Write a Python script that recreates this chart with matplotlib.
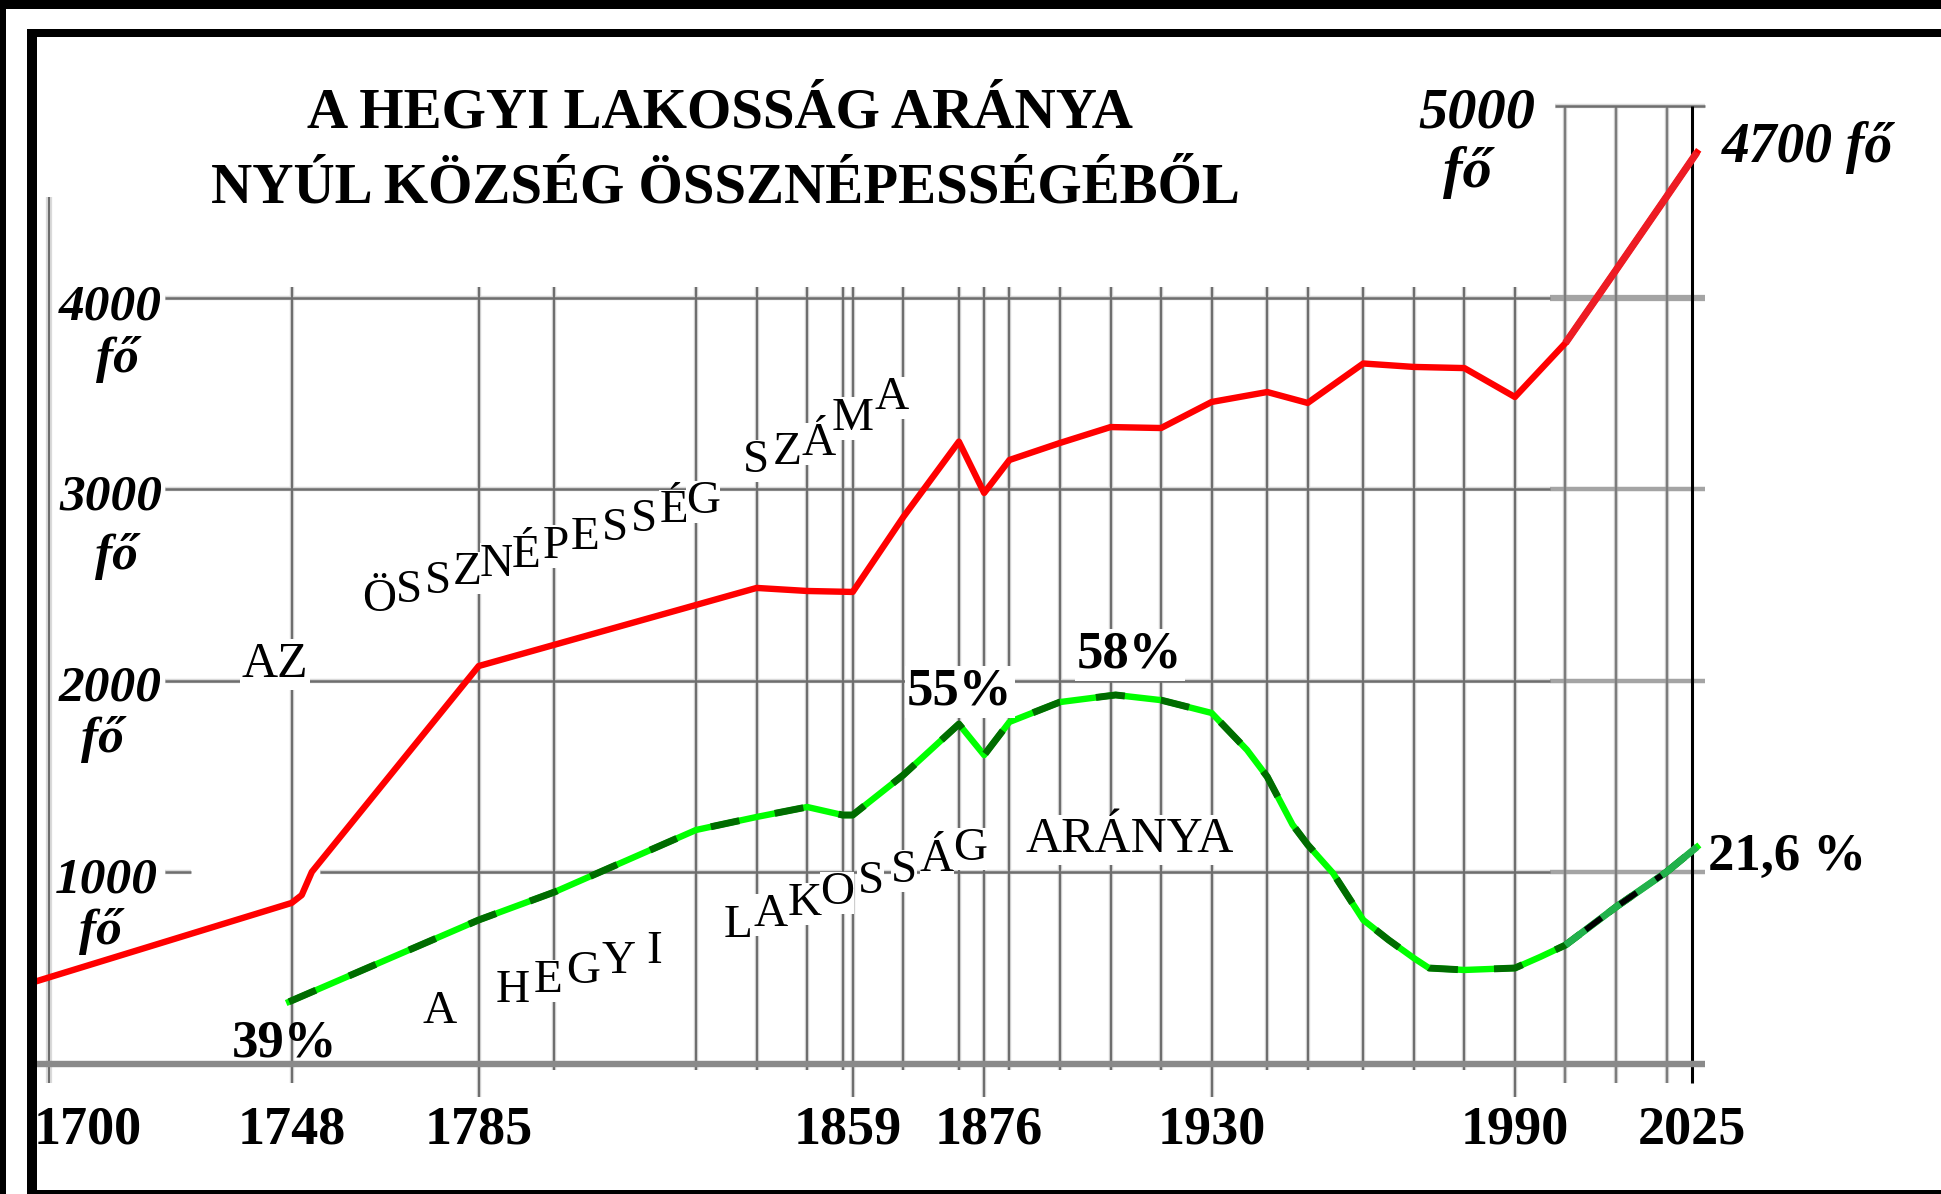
import numpy as np
import matplotlib.pyplot as plt
from matplotlib.patches import Rectangle

W, H = 1941, 1194
SERIF = ['Liberation Serif', 'DejaVu Serif']

# total population (red) and hill population (green)
red_years = [1698, 1748, 1750, 1752, 1785, 1840, 1850, 1859, 1869, 1880, 1885, 1890,
             1900, 1910, 1920, 1930, 1941, 1949, 1960, 1970, 1980, 1990, 2000, 2010,
             2020, 2026]
red_pop = [436, 841, 882, 1003, 2078, 2486, 2470, 2465, 2856, 3250, 2982, 3154,
           3243, 3326, 3321, 3457, 3509, 3452, 3658, 3640, 3634, 3483, 3765, 4146,
           4529, 4760]

green_years = [1747.5, 1785, 1800, 1828, 1840, 1850, 1857, 1859, 1869, 1880, 1885, 1890,
               1900, 1911, 1920, 1930, 1937, 1941, 1946, 1949, 1954, 1960, 1965, 1970,
               1973, 1980, 1990, 1995, 2000, 2010, 2020, 2026]
green_pop = [325, 752, 898, 1222, 1290, 1342, 1300, 1300, 1509, 1775, 1613, 1786,
             1890, 1927, 1900, 1833, 1640, 1500, 1250, 1145, 997, 752, 648, 553,
             501, 491, 501, 559, 621, 820, 1003, 1133]

grid_years = [1748, 1785, 1800, 1828, 1840, 1850, 1857, 1859, 1869, 1880, 1885, 1890,
              1900, 1910, 1920, 1930, 1941, 1949, 1960, 1970, 1980, 1990]
long_tick_years = [1785, 1859, 1885, 1930, 1990]
late_grid_years = [2000, 2010, 2020]
pop_levels = [1000, 2000, 3000, 4000]

tick_pos = [1707.6, 1748, 1785, 1858, 1886, 1930, 1990, 2025]
tick_text = ['1700', '1748', '1785', '1859', '1876', '1930', '1990', '2025']

ylab_text = ['4000', '3000', '2000', '1000']
ylab_x = [1712.1, 1712.3, 1712.1, 1711.4]
ylab_base = [3890, 2893, 1896, 893]
fo_x = [1713.5, 1713.3, 1710.5, 1710.1]
fo_base = [3614, 2585, 1629, 627]

title_lines = ['A HEGYI LAKOSSÁG ARÁNYA', 'NYÚL KÖZSÉG ÖSSZNÉPESSÉGÉBŐL']

fig = plt.figure(figsize=(W / 100, H / 100), dpi=100)
ax = fig.add_axes([0, 0, 1, 1])
ax.set_xlim(1690.31, 2074.29)
ax.set_ylim(-678.9, 5556.1)
ax.axis('off')


def frame(x, y, w, h):
    fig.add_artist(Rectangle((x / W, 1 - (y + h) / H), w / W, h / H,
                             transform=fig.transFigure, color='black', lw=0))


frame(0, 0, W, 9)
frame(0, 0, 6, H)
frame(27, 29, W - 27, 8)
frame(27, 29, 10, H - 29)
frame(27, 1190, W - 27, 4)

halo, dark = '#dadada', '#6e6e6e'

# vertical grid
for yr in grid_years:
    ybot = -172 if yr in long_tick_years else (-99 if yr == 1748 else -31)
    ax.vlines(yr, ybot, 4057, color=halo, lw=3.2, zorder=1)
    ax.vlines(yr, ybot, 4057, color=dark, lw=1.6, zorder=1.2)
ax.vlines(1700, -99, 4527, color=halo, lw=4.5, zorder=1)
ax.vlines(1700, -99, 4527, color=dark, lw=1.5, zorder=1.2)
ax.vlines(late_grid_years, -99, 5000, color=halo, lw=3.2, zorder=1)
ax.vlines(late_grid_years, -99, 5000, color='#7c7c7c', lw=1.7, zorder=1.2)
ax.vlines(2025, -99, 5000, color='black', lw=2.2, zorder=1.3)

# horizontal grid
for lev in pop_levels:
    if lev == 1000:
        segs = [(1723, 1728), (1753.6, 1997)]
    else:
        segs = [(1723, 1997)]
    for a, b in segs:
        ax.hlines(lev, a, b, color=halo, lw=3.2, zorder=1)
        ax.hlines(lev, a, b, color=dark, lw=1.8, zorder=1.2)
    ax.hlines(lev, 1997, 2027.6, color='#a4a4a4', lw=4.5 if lev == 4000 else 3.2, zorder=1.1)
ax.hlines(5000, 1998, 2027.6, color=halo, lw=3.2, zorder=1)
ax.hlines(5000, 1998, 2027.6, color=dark, lw=1.8, zorder=1.2)
ax.hlines(0, 1697, 2027.6, color='#8a8a8a', lw=4.6, zorder=1.4)

# data lines
ry, rp = np.array(red_years), np.array(red_pop)
gy, gp = np.array(green_years), np.array(green_pop)
ax.plot(ry, rp, color='#ff0000', lw=4.6, zorder=5)
late = ry >= 2000
ax.plot(ry[late], rp[late], color='#ed1c24', lw=5.2, zorder=5.1, solid_capstyle='butt')

ax.plot(gy, gp, color='#00ff00', lw=4.6, zorder=5)
ax.plot(gy, gp, color='#006c00', lw=5.0, dashes=(4.2, 5.2), zorder=6)
glate = gy >= 2000
ax.plot(gy[glate], gp[glate], color='#22b14c', lw=5.0, zorder=7, solid_capstyle='butt')
xs = np.linspace(2004, 2019, 40)
ax.plot(xs, np.interp(xs, gy, gp), color='black', lw=4.2, dashes=(3.4, 4.0), zorder=8)

# texts
kw_b = dict(family=SERIF, fontweight='bold', color='black', zorder=9)
kw_bi = dict(family=SERIF, fontweight='bold', fontstyle='italic', color='black', zorder=9)
kw_r = dict(family=SERIF, color='black', zorder=4)
box = dict(facecolor='white', edgecolor='none', pad=1.5)

ax.text(1832.7, 4888, title_lines[0], ha='center', va='baseline', fontsize=41, **kw_b)
ax.text(1833.9, 4501, title_lines[1], ha='center', va='baseline', fontsize=41, **kw_b)

for x, t in zip(tick_pos, tick_text):
    ax.text(x, -415, t, ha='center', va='baseline', fontsize=39, **kw_b)

for t, x, b, fx, fb in zip(ylab_text, ylab_x, ylab_base, fo_x, fo_base):
    ax.text(x, b, t, ha='center', va='baseline', fontsize=37, **kw_bi)
    ax.text(fx, fb, 'fő', ha='center', va='baseline', fontsize=37, **kw_bi)

ax.text(1982.5, 4888, '5000', ha='center', va='baseline', fontsize=42, **kw_bi)
ax.text(1980.5, 4580, 'fő', ha='center', va='baseline', fontsize=42, **kw_bi)
ax.text(2031.0, 4710, '4700 fő', ha='left', va='baseline', fontsize=40, **kw_bi)
ax.text(2028.1, 1013, '21,6 %', ha='left', va='baseline', fontsize=38, **kw_b)

ax.text(1746.7, 37, '39%', ha='center', va='baseline', fontsize=38, **kw_b)
ax.text(1880.2, 1875, '55%', ha='center', va='baseline', fontsize=38, bbox=box, **kw_b)
ax.text(1913.8, 2068, '58%', ha='center', va='baseline', fontsize=38, bbox=box, **kw_b)

ax.text(1744.7, 2021, 'AZ', ha='center', va='baseline', fontsize=36, bbox=box, **kw_r)
ax.text(1913.8, 1107, 'ARÁNYA', ha='center', va='baseline', fontsize=36, bbox=box, **kw_r)


def spell(word, start, end, size=34):
    # upright letters stepped along a straight line, WordArt style
    n = len(word)
    for i, ch in enumerate(word):
        t = i / (n - 1) if n > 1 else 0
        x = start[0] + t * (end[0] - start[0])
        y = start[1] + t * (end[1] - start[1])
        ax.text(x, y, ch, ha='center', va='baseline', fontsize=size,
                bbox=dict(facecolor='white', edgecolor='none', pad=0), **kw_r)


spell('ÖSSZNÉPESSÉG', (1765.3, 2365), (1829.4, 2875))
spell('SZÁ', (1839.8, 3091), (1852.2, 3180))
spell('MA', (1859.0, 3311), (1866.6, 3420))
spell('A', (1777.2, 214), (1777.2, 214))
spell('HEGYI', (1791.8, 324), (1819.7, 527))
spell('LAKOSSÁG', (1836.3, 663), (1882.2, 1065))

fig.savefig('out.png', dpi=100, facecolor='white')
